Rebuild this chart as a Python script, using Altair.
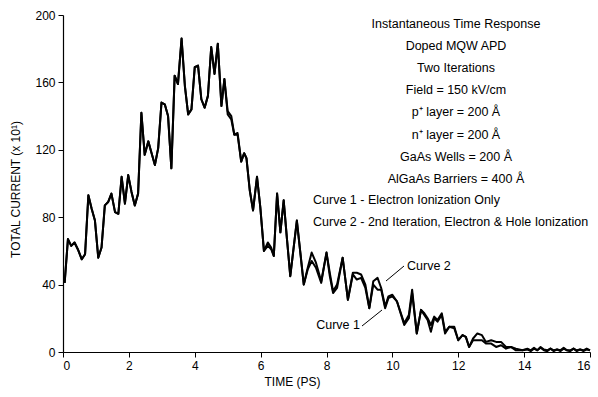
import altair as alt
import pandas as pd

# Simulated instantaneous current of a doped MQW APD (two iterations)
time_ps = [0.05, 0.15, 0.25, 0.35, 0.45, 0.57, 0.67, 0.77, 0.87, 0.97,
           1.07, 1.17, 1.27, 1.37, 1.47, 1.58, 1.68, 1.78, 1.88, 1.98,
           2.08, 2.18, 2.28, 2.38, 2.48, 2.59, 2.69, 2.79, 2.89, 2.99,
           3.09, 3.19, 3.29, 3.39, 3.49, 3.60, 3.70, 3.80, 3.90, 4.00,
           4.10, 4.20, 4.30, 4.40, 4.50, 4.60, 4.70, 4.81, 4.90, 5.00,
           5.11, 5.20, 5.30, 5.41, 5.50, 5.57, 5.67, 5.77, 5.89, 5.99,
           6.10, 6.22, 6.32, 6.40, 6.50, 6.60, 6.70, 6.80, 6.90, 7.10,
           7.20, 7.31, 7.43, 7.55, 7.68, 7.84, 8.00, 8.10, 8.20, 8.32,
           8.49, 8.65, 8.80, 8.92, 9.05, 9.18, 9.30, 9.42, 9.55, 9.66,
           9.78, 9.88, 10.00, 10.14, 10.36, 10.50, 10.60, 10.74, 10.87, 10.97,
           11.07, 11.17, 11.27, 11.37, 11.50, 11.60, 11.73, 11.88, 12.00, 12.13,
           12.23, 12.33, 12.45, 12.58, 12.72, 12.84, 13.00, 13.15, 13.30, 13.45,
           13.60, 13.75, 13.95, 14.10, 14.20, 14.30, 14.40, 14.50, 14.60, 14.70,
           14.80, 14.90, 15.00, 15.10, 15.20, 15.30, 15.40, 15.50, 15.60, 15.70,
           15.80, 15.90, 16.00]

# Curve 1 - electron ionization only
curve1 = [41, 67, 63, 65, 61, 55, 58, 93, 85, 78,
          56, 62, 87, 89, 94, 83, 82, 104, 88, 105,
          95, 87, 94, 142, 117, 125, 118, 111, 121, 148,
          147, 140, 109, 164, 159, 186, 158, 141, 144, 169,
          170, 150, 145, 152, 181, 165, 183, 146, 162, 141,
          138, 129, 129, 113, 118, 115, 96, 84, 104, 86,
          60, 63, 61, 57, 94, 71, 90, 67, 45, 78,
          60, 40, 49, 54, 50, 41, 59, 45, 35, 38,
          56, 31, 46, 43, 44, 38, 26, 40, 37, 37,
          26, 32, 33, 30, 16, 20, 35, 11, 25, 22,
          19, 12, 20, 18, 22, 11, 15, 14, 7, 10,
          9, 3, 7, 7, 7, 5, 5, 3, 4, 2,
          3, 1, 1, 1.5, 0.5, 2, 1, 2.5, 1, 0.5,
          2, 1, 1.5, 0.5, 2, 1, 0.5, 2, 1, 1.5,
          0.5, 1.5, 1]

# Curve 2 - 2nd iteration, electron & hole ionization
curve2 = [41, 67, 63, 65, 61, 55, 58, 93, 85, 78,
          56, 62, 87, 89, 94, 83, 82, 104, 88, 105,
          95, 87, 94, 142, 117, 125, 118, 111, 121, 148,
          147, 140, 109, 164, 159, 186, 158, 141, 144, 169,
          170, 150, 145, 152, 181, 165, 183, 146, 162, 143,
          140, 129, 130, 113, 118, 115, 96, 84, 104, 86,
          60, 65, 62, 57, 94, 71, 90, 67, 45, 78,
          60, 40, 50, 59, 53, 42, 59, 47, 36, 40,
          56, 31, 47, 47, 46, 40, 26, 42, 44, 38,
          27, 33, 34, 30, 17, 22, 37, 11, 25, 23,
          20, 16, 21, 19, 23, 12, 15, 15, 7, 10,
          9, 3, 8, 11, 10, 6, 7, 6, 6, 3,
          3, 2, 1, 2, 1, 2.5, 1, 3, 1.5, 1,
          2, 0.5, 1.5, 1, 2.5, 1, 1, 2, 0.5, 1.5,
          1, 2, 1]

x_ticks = [0, 2, 4, 6, 8, 10, 12, 14, 16]
y_ticks = [0, 40, 80, 120, 160, 200]

notes = [
    "Instantaneous Time Response",
    "Doped MQW APD",
    "Two Iterations",
    "Field = 150 kV/cm",
    "p\u207a layer = 200 \u00c5",
    "n\u207a layer = 200 \u00c5",
    "GaAs Wells = 200 \u00c5",
    "AlGaAs Barriers = 400 \u00c5",
]
legend_notes = [
    "Curve 1 - Electron Ionization Only",
    "Curve 2 - 2nd Iteration, Electron & Hole Ionization",
]

FONT = "Liberation Sans"
W, H = 527, 337

df = pd.DataFrame({"time": time_ps, "Curve 1": curve1, "Curve 2": curve2})
long = df.melt("time", var_name="curve", value_name="current")

x_enc = alt.X(
    "time:Q",
    scale=alt.Scale(domain=[0, 16], nice=False),
    axis=alt.Axis(values=x_ticks, title="TIME (PS)", titleX=229, titleY=29,
                  titleBaseline="middle", format="d"),
)
y_enc = alt.Y(
    "current:Q",
    scale=alt.Scale(domain=[0, 200], nice=False),
    axis=alt.Axis(values=y_ticks, title="TOTAL CURRENT (x 10\u00b9)",
                  titleX=-48, titleY=174, titleBaseline="middle"),
)

lines = alt.Chart(long).mark_line(
    color="black", strokeWidth=2.0, strokeJoin="round"
).encode(x=x_enc, y=y_enc, detail="curve:N")

one = alt.Data(values=[{}])
layers = [lines]

# centred parameter block
for i, txt in enumerate(notes):
    layers.append(
        alt.Chart(one).mark_text(
            text=txt, font=FONT, fontSize=12.5, align="center",
            baseline="middle", color="black"
        ).encode(x=alt.value(393), y=alt.value(9 + i * 22.1))
    )
# left-aligned curve descriptions
for i, txt in enumerate(legend_notes):
    layers.append(
        alt.Chart(one).mark_text(
            text=txt, font=FONT, fontSize=12.5, align="left",
            baseline="middle", color="black"
        ).encode(x=alt.value(250), y=alt.value(185 + i * 22))
    )

# curve labels with leader lines
layers.append(
    alt.Chart(one).mark_text(
        text="Curve 2", font=FONT, fontSize=12.5, align="left",
        baseline="middle", color="black"
    ).encode(x=alt.value(344), y=alt.value(251))
)
layers.append(
    alt.Chart(one).mark_text(
        text="Curve 1", font=FONT, fontSize=12.5, align="right",
        baseline="middle", color="black"
    ).encode(x=alt.value(297), y=alt.value(310))
)
layers.append(
    alt.Chart(one).mark_rule(color="black", strokeWidth=1).encode(
        x=alt.value(341), y=alt.value(251), x2=alt.value(323), y2=alt.value(266)
    )
)
layers.append(
    alt.Chart(one).mark_rule(color="black", strokeWidth=1).encode(
        x=alt.value(299), y=alt.value(311), x2=alt.value(319), y2=alt.value(295)
    )
)

chart = alt.layer(*layers).properties(
    width=W, height=H,
    autosize=alt.AutoSizeParams(type="none"),
    padding={"left": 63, "top": 15, "right": 8, "bottom": 45},
    background="white",
).configure_view(stroke=None).configure_axis(
    grid=False,
    domainColor="black",
    domainWidth=1.2,
    tickColor="black",
    tickSize=5,
    tickWidth=1,
    labelFont=FONT,
    labelFontSize=12,
    labelColor="black",
    labelPadding=3,
    titleFont=FONT,
    titleFontSize=12,
    titleFontWeight="normal",
    titleColor="black",
)

chart.save("out.html", embed_options={"renderer": "svg", "actions": False})
